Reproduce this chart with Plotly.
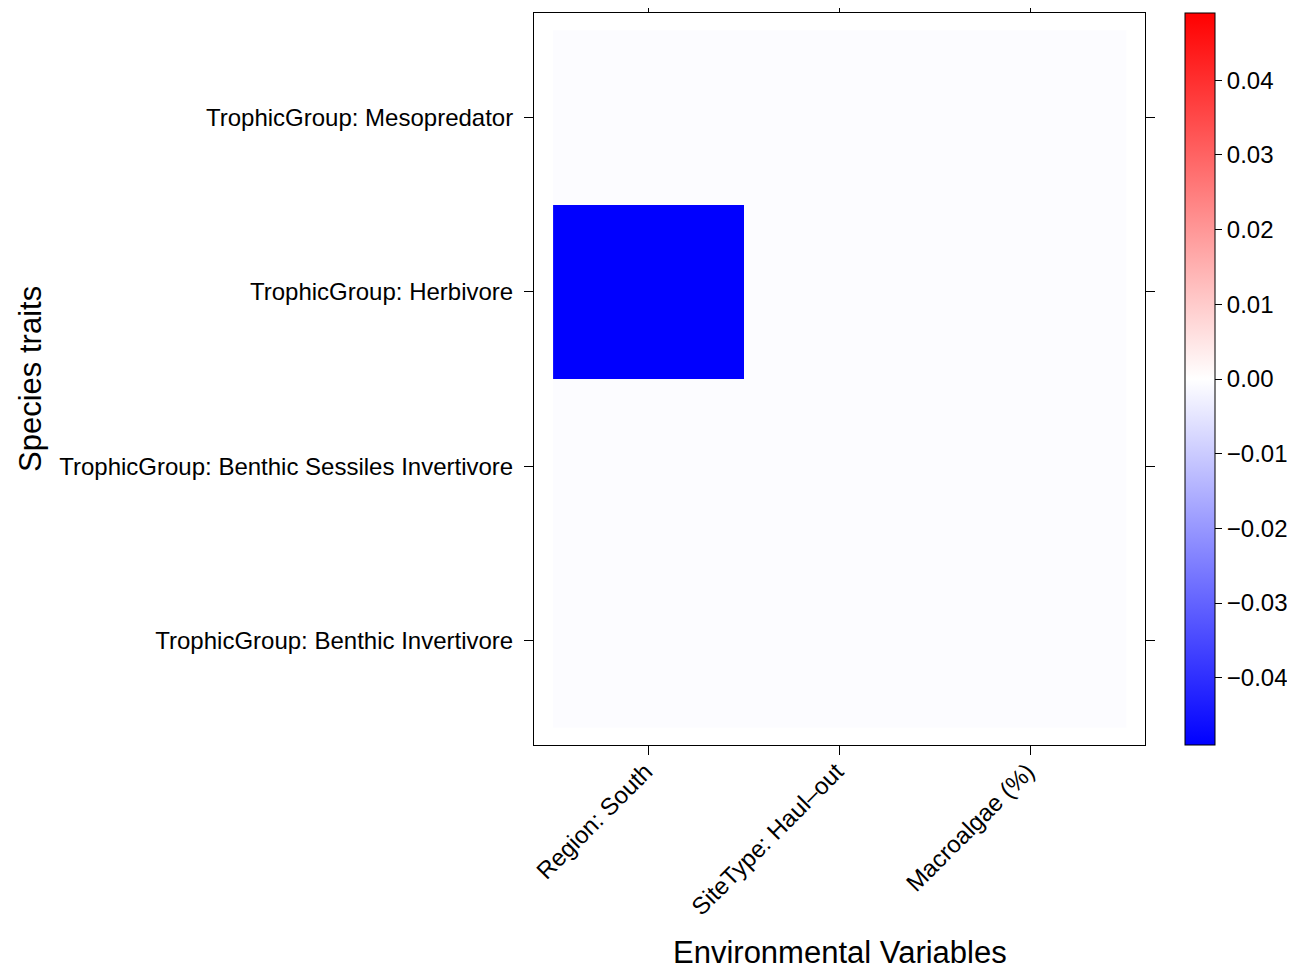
import plotly.graph_objects as go

env_vars = ["Region: South", "SiteType: Haul\u2013out", "Macroalgae (%)"]
traits = ["TrophicGroup: Benthic Invertivore",
          "TrophicGroup: Benthic Sessiles Invertivore",
          "TrophicGroup: Herbivore",
          "TrophicGroup: Mesopredator"]
# rows = traits (bottom to top), columns = env_vars
values = [
    [-0.0006, -0.0006, -0.0006],
    [-0.0006, -0.0006, -0.0006],
    [-0.0490, -0.0006, -0.0006],
    [-0.0006, -0.0006, -0.0006],
]
cbar_ticks = [-0.04, -0.03, -0.02, -0.01, 0.0, 0.01, 0.02, 0.03, 0.04]
cbar_text = ["\u22120.04", "\u22120.03", "\u22120.02", "\u22120.01", "0.00",
             "0.01", "0.02", "0.03", "0.04"]
zlim = 0.049

FONT = "Liberation Sans, Arial, Helvetica, sans-serif"

fig = go.Figure(go.Heatmap(
    z=values,
    x=[1, 2, 3],
    y=[1, 2, 3, 4],
    zmin=-zlim, zmax=zlim,
    colorscale=[[0, "rgb(0,0,255)"], [0.5, "rgb(255,255,255)"], [1, "rgb(255,0,0)"]],
    xgap=0, ygap=0,
    colorbar=dict(
        x=1.0655, xanchor="left", xref="paper",
        y=0, yanchor="bottom", len=1, lenmode="fraction",
        xpad=0, ypad=0,
        thickness=30, thicknessmode="pixels",
        outlinewidth=1, outlinecolor="black",
        tickmode="array", tickvals=cbar_ticks, ticktext=cbar_text,
        ticks="outside", ticklen=7, tickcolor="black",
        tickfont=dict(family=FONT, size=24, color="black"),
    ),
))

fig.update_xaxes(
    range=[0.4, 3.6],
    tickmode="array", tickvals=[1, 2, 3], ticktext=env_vars,
    tickangle=-45, automargin=False,
    ticks="outside", ticklen=9, tickcolor="black",
    ticklabelstandoff=-7, ticklabelshift=-3,
    showline=True, linecolor="black", linewidth=1, mirror="allticks",
    showgrid=False, zeroline=False,
    tickfont=dict(family=FONT, size=24, color="black"),
)
fig.update_yaxes(
    range=[0.4, 4.6], automargin=False,
    tickmode="array", tickvals=[1, 2, 3, 4], ticktext=traits,
    ticks="outside", ticklen=9, tickcolor="black", ticklabelstandoff=6,
    showline=True, linecolor="black", linewidth=1, mirror="allticks",
    showgrid=False, zeroline=False,
    tickfont=dict(family=FONT, size=24, color="black"),
)

fig.add_annotation(text="Environmental Variables", xref="paper", yref="paper",
                   x=0.5, y=-0.2828, yanchor="middle", showarrow=False,
                   font=dict(family=FONT, size=31, color="black"))
fig.add_annotation(text="Species traits", xref="paper", yref="paper",
                   x=-0.825, y=0.5, xanchor="center", yanchor="middle",
                   textangle=-90, showarrow=False,
                   font=dict(family=FONT, size=31, color="black"))

fig.update_layout(
    width=1287, height=963,
    margin=dict(l=526, r=150, t=5, b=226, autoexpand=False),
    paper_bgcolor="white", plot_bgcolor="white",
    font=dict(family=FONT, color="black"),
)

fig.write_html("out.html")
